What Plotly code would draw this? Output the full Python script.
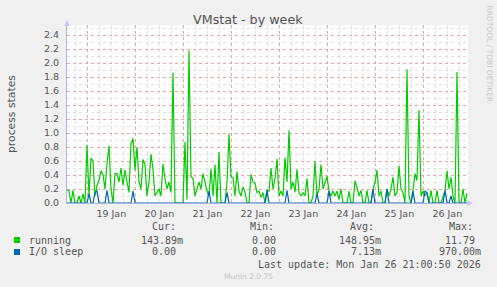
import pandas as pd
import plotly.graph_objects as go

# ---------------- data (hourly samples) ----------------
start_time = "2026-01-18 13:50"
running = [
    0.19, 0.17, 0.0, 0.18, 0.0, 0.0, 0.1, 0.0, 0.13, 0.0,
    0.83, 0.1, 0.64, 0.6, 0.1, 0.25, 0.32, 0.46, 0.4, 0.2,
    0.56, 0.82, 0.2, 0.0, 0.42, 0.42, 0.3, 0.5, 0.25, 0.47,
    0.3, 0.15, 0.85, 0.92, 0.47, 0.8, 0.3, 0.2, 0.62, 0.55,
    0.1, 0.3, 0.7, 0.48, 0.1, 0.15, 0.2, 0.1, 0.56, 0.35,
    0.2, 0.3, 0.15, 1.86, 0.0, 0.0, 0.0, 0.0, 0.0, 0.87,
    0.05, 2.18, 0.38, 0.35, 0.1, 0.2, 0.3, 0.2, 0.42, 0.3,
    0.17, 0.1, 0.49, 0.1, 0.55, 0.0, 0.73, 0.0, 0.0, 0.0,
    0.3, 0.98, 0.37, 0.36, 0.1, 0.45, 0.17, 0.1, 0.23, 0.16,
    0.0, 0.0, 0.41, 0.3, 0.28, 0.15, 0.17, 0.08, 0.15, 0.0,
    0.18, 0.17, 0.5, 0.2, 0.35, 0.63, 0.1, 0.17, 0.1, 0.65,
    0.3, 1.04, 0.2, 0.3, 0.15, 0.48, 0.15, 0.1, 0.15, 0.1,
    0.35, 0.0, 0.0, 0.1, 0.6, 0.1, 0.2, 0.55, 0.2, 0.3,
    0.38, 0.17, 0.1, 0.17, 0.1, 0.17, 0.05, 0.2, 0.0, 0.0,
    0.0, 0.17, 0.0, 0.0, 0.32, 0.22, 0.1, 0.18, 0.0, 0.0,
    0.18, 0.0, 0.0, 0.2, 0.3, 0.47, 0.1, 0.17, 0.0, 0.0,
    0.2, 0.1, 0.2, 0.37, 0.1, 0.15, 0.53, 0.2, 0.15, 0.0,
    1.91, 0.1, 0.0, 0.17, 0.42, 0.32, 1.33, 0.1, 0.17, 0.1,
    0.15, 0.0, 0.18, 0.0, 0.0, 0.18, 0.0, 0.0, 0.1, 0.18,
    0.46, 0.2, 0.37, 0.1, 0.0, 1.87, 0.0, 0.0, 0.2, 0.0,
    0.14,
]
io_sleep = [
    0.0, 0.0, 0.0, 0.0, 0.0, 0.0, 0.0, 0.0, 0.0, 0.0,
    0.0, 0.13, 0.0, 0.0, 0.15, 0.17, 0.0, 0.0, 0.0, 0.0,
    0.18, 0.0, 0.0, 0.0, 0.0, 0.0, 0.0, 0.0, 0.0, 0.0,
    0.0, 0.0, 0.0, 0.17, 0.0, 0.0, 0.0, 0.0, 0.0, 0.0,
    0.0, 0.0, 0.0, 0.0, 0.0, 0.0, 0.0, 0.0, 0.0, 0.0,
    0.0, 0.0, 0.0, 0.0, 0.0, 0.0, 0.0, 0.0, 0.0, 0.0,
    0.0, 0.0, 0.0, 0.0, 0.0, 0.0, 0.0, 0.0, 0.0, 0.0,
    0.0, 0.17, 0.0, 0.0, 0.0, 0.0, 0.0, 0.0, 0.0, 0.0,
    0.15, 0.0, 0.0, 0.0, 0.0, 0.0, 0.0, 0.0, 0.0, 0.0,
    0.0, 0.0, 0.0, 0.0, 0.0, 0.0, 0.0, 0.0, 0.0, 0.0,
    0.18, 0.0, 0.0, 0.0, 0.0, 0.0, 0.0, 0.0, 0.0, 0.0,
    0.18, 0.0, 0.0, 0.0, 0.0, 0.0, 0.0, 0.0, 0.0, 0.0,
    0.0, 0.0, 0.0, 0.0, 0.0, 0.13, 0.0, 0.0, 0.0, 0.0,
    0.0, 0.17, 0.0, 0.0, 0.0, 0.0, 0.0, 0.0, 0.0, 0.0,
    0.0, 0.0, 0.0, 0.0, 0.0, 0.0, 0.0, 0.0, 0.0, 0.0,
    0.0, 0.0, 0.0, 0.2, 0.0, 0.0, 0.0, 0.0, 0.0, 0.0,
    0.2, 0.0, 0.0, 0.0, 0.0, 0.0, 0.0, 0.0, 0.0, 0.0,
    0.0, 0.0, 0.0, 0.17, 0.0, 0.0, 0.0, 0.0, 0.0, 0.17,
    0.15, 0.0, 0.0, 0.0, 0.0, 0.0, 0.0, 0.0, 0.0, 0.18,
    0.0, 0.0, 0.1, 0.0, 0.0, 0.0, 0.0, 0.0, 0.0, 0.0,
    0.0,
]
series_names = ["running", "I/O sleep"]
series_colors = ["#00CC00", "#0066B3"]
legend_cur = ["143.89m", "0.00"]
legend_min = ["0.00", "0.00"]
legend_avg = ["148.95m", "7.13m"]
legend_max = ["11.79", "970.00m"]
title_text = "VMstat - by week"
y_title = "process states"
last_update = "Last update: Mon Jan 26 21:00:50 2026"
range_start = "2026-01-18 13:50"
range_end = "2026-01-26 22:20"

times = pd.date_range(start_time, periods=len(running), freq="1h")

# ---------------- layout geometry (pixels) ----------------
WIDTH, HEIGHT = 497, 287
L, R, T, B = 67, 468, 25, 203
PW, PH = R - L, B - T


def px(x):
    return (x - L) / PW


def py(y):
    return (B - y) / PH


TXT = "#555555"
MONO = "DejaVu Sans Mono"
SANS = "DejaVu Sans"

fig = go.Figure()
for name, vals, col in zip(series_names, [running, io_sleep], series_colors):
    fig.add_trace(go.Scatter(x=times, y=vals, mode="lines", name=name,
                             line=dict(color=col, width=1.2),
                             hoverinfo="skip", showlegend=False))

axis_col = "#aab4e0"
red_grid = "#eaa4a4"
gray_grid = "#e0e0e0"

fig.update_layout(
    width=WIDTH, height=HEIGHT,
    margin=dict(l=L, r=WIDTH - R, t=T, b=HEIGHT - B, pad=0),
    paper_bgcolor="#F0F0F0", plot_bgcolor="#FFFFFF",
    showlegend=False,
    font=dict(family=SANS, color=TXT, size=10),
    xaxis=dict(
        type="date", range=[range_start, range_end],
        tick0="2026-01-19 00:00", dtick=86400000,
        ticklabelmode="period", tickformat="%d %b",
        showgrid=True, gridcolor=red_grid, griddash="dot", gridwidth=1,
        minor=dict(dtick=6 * 3600000, tick0="2026-01-19 00:00",
                   showgrid=True, gridcolor=gray_grid, griddash="dot", gridwidth=1),
        showline=True, linecolor=axis_col, linewidth=1,
        ticks="", tickfont=dict(family=SANS, size=9.5, color=TXT),
        ticklabelstandoff=2, zeroline=False, fixedrange=True,
    ),
    yaxis=dict(
        range=[0, PH / 70.0], dtick=0.2, tick0=0, tickformat=".1f",
        showgrid=True, gridcolor=red_grid, griddash="dot", gridwidth=1,
        minor=dict(dtick=0.1, tick0=0, showgrid=True, gridcolor=gray_grid,
                   griddash="dot", gridwidth=1),
        showline=True, linecolor=axis_col, linewidth=1,
        ticks="", tickfont=dict(family=SANS, size=9.5, color=TXT),
        ticklabelstandoff=5, zeroline=False, fixedrange=True,
    ),
)

ann = []
# title
ann.append(dict(x=px(248), y=py(19.5), text=title_text, showarrow=False,
                xanchor="center", yanchor="middle",
                font=dict(family=SANS, size=12.7, color=TXT)))
# y-axis title
ann.append(dict(x=px(11), y=py(114), text=y_title, showarrow=False, textangle=-90,
                xanchor="center", yanchor="middle",
                font=dict(family=SANS, size=10.8, color=TXT)))
# vertical watermark
ann.append(dict(x=px(488.5), y=py(54), text="RRDTOOL / TOBI OETIKER", showarrow=False,
                textangle=90, xanchor="center", yanchor="middle",
                font=dict(family=SANS, size=7.5, color="#c8c8c8")))

# legend headers
for lbl, xl in zip(["Cur:", "Min:", "Avg:", "Max:"], [150, 248, 348, 447]):
    ann.append(dict(x=px(xl), y=py(227), text=lbl, showarrow=False,
                    xanchor="left", yanchor="middle",
                    font=dict(family=MONO, size=10, color=TXT)))

row_y = [240, 252]
right_edges = [[185, 278, 383, 477], [178, 278, 383, 483]]
for i, name in enumerate(series_names):
    ann.append(dict(x=px(27), y=py(row_y[i]), text=name, showarrow=False,
                    xanchor="left", yanchor="middle",
                    font=dict(family=MONO, size=10, color=TXT)))
    vals = [legend_cur[i], legend_min[i], legend_avg[i], legend_max[i]]
    for v, xr in zip(vals, right_edges[i]):
        ann.append(dict(x=px(xr), y=py(row_y[i]), text=v, showarrow=False,
                        xanchor="right", yanchor="middle",
                        font=dict(family=MONO, size=10, color=TXT)))

ann.append(dict(x=px(483), y=py(264), text=last_update, showarrow=False,
                xanchor="right", yanchor="middle",
                font=dict(family=MONO, size=10, color=TXT)))
ann.append(dict(x=px(248), y=py(276), text="Munin 2.0.75", showarrow=False,
                xanchor="center", yanchor="middle",
                font=dict(family=SANS, size=7.5, color="#c4c4c4")))
for a in ann:
    a["xref"] = "paper"
    a["yref"] = "paper"
fig.update_layout(annotations=ann)

shapes = []
# legend colour squares
for i, col in enumerate(series_colors):
    shapes.append(dict(type="rect", xref="paper", yref="paper",
                       x0=px(14), x1=px(20), y0=py(row_y[i] + 3), y1=py(row_y[i] - 3),
                       fillcolor=col, line=dict(width=0)))
# axis arrows
arrow_col = "#c4caf0"
shapes.append(dict(type="path", xref="paper", yref="paper",
                   path=f"M {px(64)} {py(26)} L {px(70)} {py(26)} L {px(67)} {py(20)} Z",
                   fillcolor=arrow_col, line=dict(width=0)))
shapes.append(dict(type="path", xref="paper", yref="paper",
                   path=f"M {px(467)} {py(200)} L {px(467)} {py(206)} L {px(473)} {py(203)} Z",
                   fillcolor=arrow_col, line=dict(width=0)))
fig.update_layout(shapes=shapes)

fig.write_html("out.html")
